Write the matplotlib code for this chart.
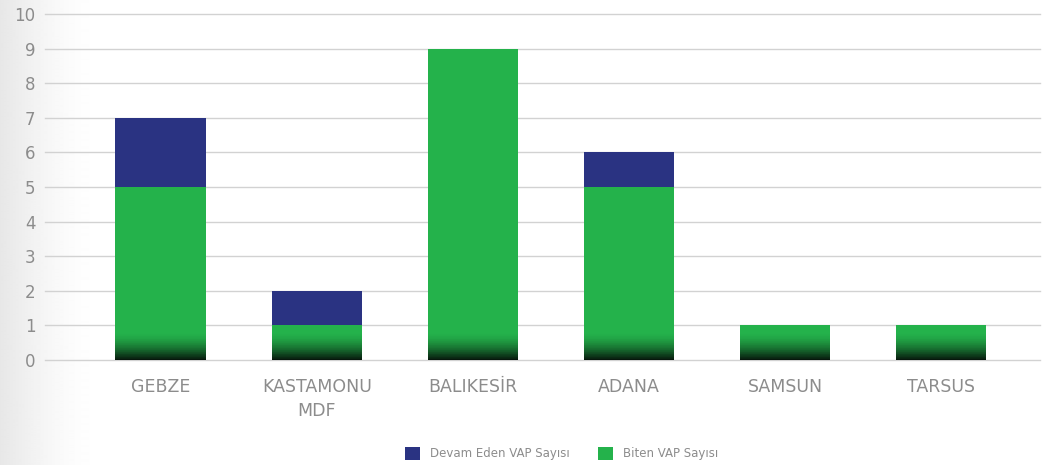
import numpy as np
import matplotlib
matplotlib.use("Agg")
import matplotlib.pyplot as plt
from matplotlib.colors import to_rgb
from matplotlib.patches import Patch

# data
sites = ["GEBZE", "KASTAMONU\nMDF", "BALIKESİR", "ADANA", "SAMSUN", "TARSUS"]
finished = [5, 1, 9, 5, 1, 1]      # Biten VAP Sayısı
ongoing = [2, 1, 0, 1, 0, 0]       # Devam Eden VAP Sayısı
yticks = list(range(0, 11))

green = "#24b24b"
navy = "#2a3382"
grey_txt = "#8c8c8c"

plt.rcParams['font.family'] = ['DejaVu Sans']

fig = plt.figure(figsize=(10.61, 4.65), dpi=100)

# faint grey fade on the left edge of the page
bg = fig.add_axes([0, 0, 1, 1], zorder=-10)
s = np.linspace(0, 1, 110)
fade = np.concatenate([0.905 + 0.095 * np.sin(s * np.pi / 2), np.ones(951)])
bg.imshow(np.tile(fade, (2, 1)), cmap="gray", vmin=0, vmax=1, aspect="auto",
          extent=[0, 1, 0, 1], interpolation="bilinear")
bg.axis("off")

ax = fig.add_axes([0.0424, 0.2258, 0.9376, 0.7442])
ax.patch.set_alpha(0)

x = np.arange(len(sites))
w = 0.577
ax.bar(x, finished, w, color=green, zorder=2)
ax.bar(x, ongoing, w, bottom=finished, color=navy, zorder=2)

# dark fade at the foot of every bar, drawn as thin strips
g = np.array(to_rgb(green))
dark = np.array(to_rgb("#06140b"))
n = 40
fade_h = 0.8
for i in range(n):
    y0 = fade_h * i / n
    k = (1 - (i + 0.5) / n) ** 1.6
    col = g * (1 - k) + dark * k
    hs = [min(fade_h / n, max(0, f - y0)) for f in finished]
    ax.bar(x, hs, w, bottom=y0, color=col, zorder=3, lw=0)

ax.set_xlim(-0.74, 5.63)
ax.set_ylim(0, 10)
ax.set_yticks(yticks)
ax.set_xticks(x)
ax.set_xticklabels(sites, fontsize=12.5, color=grey_txt, linespacing=1.45)
ax.tick_params(axis="y", labelsize=12, labelcolor=grey_txt, length=0, pad=7)
ax.tick_params(axis="x", length=0, pad=13)
ax.grid(axis="y", color="#d2d2d2", lw=1, zorder=0)
ax.set_axisbelow(True)
for gl in ax.get_ygridlines():
    gl.set_clip_on(False)
for sp in ax.spines.values():
    sp.set_visible(False)

handles = [Patch(facecolor=navy, label="Devam Eden VAP Sayısı"),
           Patch(facecolor=green, label="Biten VAP Sayısı")]
fig.legend(handles=handles, loc="center", bbox_to_anchor=(0.529, 0.024), ncol=2,
           frameon=False, fontsize=8.5, labelcolor=grey_txt,
           handlelength=1.27, handleheight=1.27, columnspacing=2.4,
           handletextpad=0.85, borderpad=0)

fig.savefig("out.png", dpi=100)
